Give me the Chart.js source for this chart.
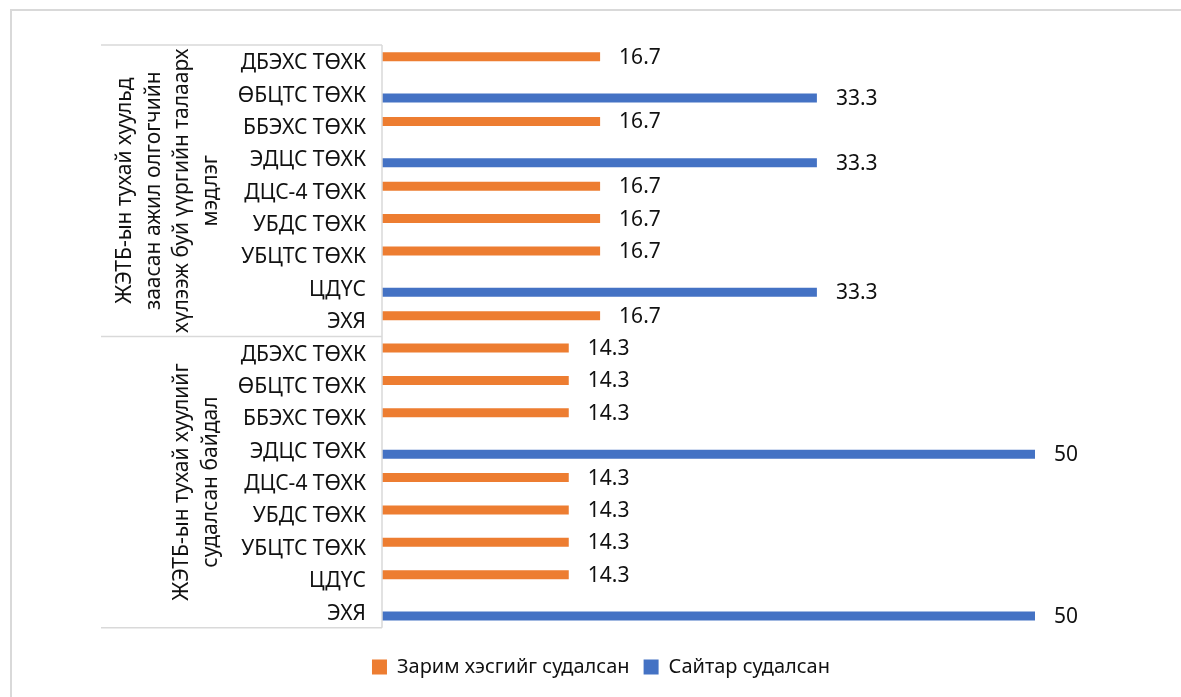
<!DOCTYPE html>
<html>
<head>
<meta charset="utf-8">
<script src="https://cdn.jsdelivr.net/npm/chart.js@4.4.0/dist/chart.umd.min.js"></script>
<style>
  html, body { margin: 0; padding: 0; background: #fff; }
  #wrap { position: absolute; left: 0; top: 0; width: 1181px; height: 697px; }
</style>
</head>
<body>
<div id="wrap"><canvas id="c" width="1181" height="697"></canvas></div>
<script>
// ---- data ----
const categories = [
  'ДБЭХС ТӨХК', 'ӨБЦТС ТӨХК', 'ББЭХС ТӨХК', 'ЭДЦС ТӨХК', 'ДЦС-4 ТӨХК',
  'УБДС ТӨХК', 'УБЦТС ТӨХК', 'ЦДҮС', 'ЭХЯ',
  'ДБЭХС ТӨХК', 'ӨБЦТС ТӨХК', 'ББЭХС ТӨХК', 'ЭДЦС ТӨХК', 'ДЦС-4 ТӨХК',
  'УБДС ТӨХК', 'УБЦТС ТӨХК', 'ЦДҮС', 'ЭХЯ'
];
const groupLabels = [
  ['ЖЭТБ-ын тухай хуульд', 'заасан ажил олгогчийн', 'хүлээж буй үүргийн талаарх', 'мэдлэг'],
  ['ЖЭТБ-ын тухай хуулийг', 'судалсан байдал']
];
const groupSizes = [9, 9];
const seriesNames = ['Зарим хэсгийг судалсан', 'Сайтар судалсан'];
const partlyStudied = [16.7, null, 16.7, null, 16.7, 16.7, 16.7, null, 16.7,
                       14.3, 14.3, 14.3, null, 14.3, 14.3, 14.3, 14.3, null];
const thoroughlyStudied = [null, 33.3, null, 33.3, null, null, null, 33.3, null,
                           null, null, null, 50, null, null, null, null, 50];

const FONT = '"Noto Sans", "DejaVu Sans", sans-serif';
const FS = 21;
const TEXT = '#111111';
const GRID = '#d9d9d9';

const frame = {
  id: 'frame',
  beforeDraw(chart) {
    const ctx = chart.ctx;
    ctx.save();
    ctx.strokeStyle = GRID;
    ctx.lineWidth = 2;
    ctx.beginPath();
    ctx.moveTo(11, 2000); ctx.lineTo(11, 10); ctx.lineTo(1200, 10);
    ctx.stroke();
    ctx.restore();
  }
};

const groups = {
  id: 'groups',
  afterDraw(chart) {
    const ctx = chart.ctx;
    const y = chart.scales.y;
    const area = chart.chartArea;
    const leftX = 101;
    ctx.save();
    ctx.strokeStyle = GRID;
    ctx.lineWidth = 1.5;
    const bounds = [area.top];
    let idx = 0;
    groupSizes.forEach(n => {
      idx += n;
      if (idx < categories.length) {
        bounds.push((y.getPixelForTick(idx - 1) + y.getPixelForTick(idx)) / 2);
      }
    });
    bounds.push(area.bottom);
    ctx.beginPath();
    bounds.forEach(b => { ctx.moveTo(leftX, b); ctx.lineTo(area.left, b); });
    ctx.moveTo(area.left, area.top); ctx.lineTo(area.left, area.bottom);
    ctx.stroke();
    ctx.fillStyle = TEXT;
    ctx.font = FS + 'px ' + FONT;
    ctx.textAlign = 'center';
    ctx.textBaseline = 'middle';
    const lineGap = 28.5;
    const lastX = 211;
    groupLabels.forEach((lines, g) => {
      const cy = (bounds[g] + bounds[g + 1]) / 2;
      lines.forEach((ln, i) => {
        const x = lastX - (lines.length - 1 - i) * lineGap;
        ctx.save();
        ctx.translate(x, cy);
        ctx.rotate(-Math.PI / 2);
        ctx.fillText(ln, 0, 0);
        ctx.restore();
      });
    });
    ctx.restore();
  }
};

const valueLabels = {
  id: 'valueLabels',
  afterDatasetsDraw(chart) {
    const ctx = chart.ctx;
    ctx.save();
    ctx.fillStyle = TEXT;
    ctx.font = FS + 'px ' + FONT;
    ctx.textAlign = 'left';
    ctx.textBaseline = 'middle';
    chart.data.datasets.forEach((ds, di) => {
      const meta = chart.getDatasetMeta(di);
      meta.data.forEach((bar, i) => {
        const v = ds.data[i];
        if (v === null || v === undefined) return;
        ctx.fillText(String(v), bar.x + 19, bar.y + 1);
      });
    });
    ctx.restore();
  }
};

new Chart(document.getElementById('c'), {
  type: 'bar',
  data: {
    labels: categories,
    datasets: [
      { label: seriesNames[0], data: partlyStudied, backgroundColor: '#ED7D31' },
      { label: seriesNames[1], data: thoroughlyStudied, backgroundColor: '#4472C4' }
    ]
  },
  options: {
    indexAxis: 'y',
    responsive: false,
    devicePixelRatio: 1,
    animation: false,
    categoryPercentage: 0.556,
    barPercentage: 1.0,
    layout: { padding: { left: 101, top: 45, right: 80, bottom: 10 } },
    scales: {
      x: { display: false, min: 0, max: 50 },
      y: {
        grid: { display: false, drawTicks: false },
        border: { display: false },
        ticks: {
          autoSkip: false,
          color: TEXT,
          padding: 16,
          labelOffset: 2,
          font: { family: FONT, size: FS }
        },
        afterFit(scale) { scale.width = 281; }
      },
      spacer: {
        type: 'linear',
        position: 'right',
        axis: 'y',
        grid: { display: false, drawTicks: false },
        border: { display: false },
        ticks: { display: false },
        afterFit(scale) { scale.width = 66; }
      }
    },
    plugins: {
      legend: {
        position: 'bottom',
        title: { display: true, text: ' ', font: { size: 1 }, padding: { top: 7, bottom: 7 } },
        labels: {
          color: TEXT,
          font: { family: FONT, size: 20 },
          boxWidth: 15,
          boxHeight: 15,
          padding: 14
        }
      },
      tooltip: { enabled: false }
    }
  },
  plugins: [frame, groups, valueLabels]
});
</script>
</body>
</html>
